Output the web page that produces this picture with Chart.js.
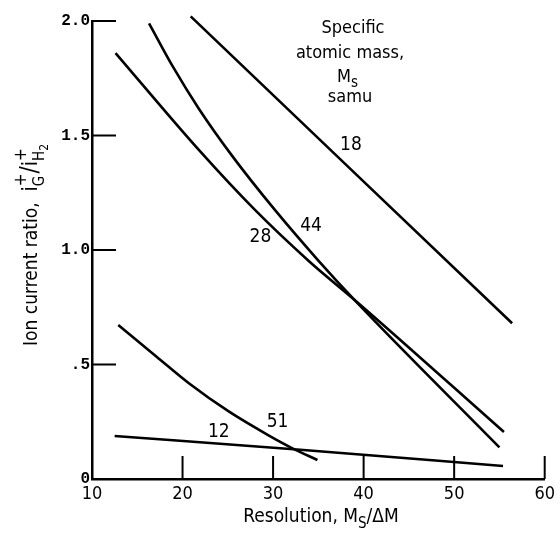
<!DOCTYPE html>
<html>
<head>
<meta charset="utf-8">
<script src="https://cdn.jsdelivr.net/npm/chart.js@4.4.1/dist/chart.umd.min.js"></script>
<style>
  html, body { margin: 0; padding: 0; background: #fff; }
  canvas { display: block; }
</style>
</head>
<body>
<canvas id="c" width="560" height="536"></canvas>
<script>
// ---- data ----
const xTickValues = [10, 20, 30, 40, 50, 60];
const xTickLabels = ['10', '20', '30', '40', '50', '60'];
const yTickValues = [0, 0.5, 1.0, 1.5, 2.0];
const yTickLabels = ['0', '.5', '1.0', '1.5', '2.0'];

const massLabels = ['18', '44', '28', '51', '12'];

const x18 = [20.9, 56.4];
const y18 = [2.02, 0.68];
const x44 = [16.3, 19.0, 21.8, 25.5, 30.2, 35.0, 39.3, 55.0];
const y44 = [1.99, 1.796, 1.617, 1.41, 1.175, 0.954, 0.769, 0.138];
const x28 = [12.6, 21.8, 28.0, 34.0, 39.3, 55.5];
const y28 = [1.86, 1.437, 1.175, 0.95, 0.772, 0.205];
const x51 = [12.9, 17.1, 20.7, 25.1, 29.4, 32.2, 34.9];
const y51 = [0.672, 0.535, 0.418, 0.295, 0.193, 0.133, 0.083];
const x12 = [12.5, 33.0, 55.4];
const y12 = [0.188, 0.128, 0.057];

// label anchor positions (data units)
const labelX = [38.6, 34.2, 28.6, 30.5, 24.0];
const labelY = [1.46, 1.105, 1.057, 0.249, 0.205];

const seriesX = [x18, x44, x28, x51, x12];
const seriesY = [y18, y44, y28, y51, y12];

const NARROW = '"Liberation Sans Narrow", "DejaVu Sans Condensed", "Arial Narrow", sans-serif';
const MONO = '"Liberation Mono", "DejaVu Sans Mono", monospace';

const datasets = seriesX.map((xs, i) => ({
  label: massLabels[i],
  data: xs.map((x, j) => ({ x: x, y: seriesY[i][j] })),
  showLine: true,
  borderColor: '#000',
  borderWidth: 2.6,
  pointRadius: 0,
  cubicInterpolationMode: 'monotone',
  fill: false,
  clip: false
}));

const annot = {
  id: 'annot',
  afterDraw(chart) {
    const ctx = chart.ctx;
    const xs = chart.scales.x, ys = chart.scales.y;
    const ca = chart.chartArea;
    ctx.save();
    ctx.strokeStyle = '#000';
    ctx.fillStyle = '#000';
    // inward tick marks
    ctx.lineWidth = 2;
    yTickValues.forEach(v => {
      if (v === 0) return;
      const py = ys.getPixelForValue(v);
      ctx.beginPath(); ctx.moveTo(ca.left, py); ctx.lineTo(ca.left + 24, py); ctx.stroke();
    });
    xTickValues.forEach(v => {
      if (v === 10) return;
      const px = xs.getPixelForValue(v);
      ctx.beginPath(); ctx.moveTo(px, ca.bottom); ctx.lineTo(px, ca.bottom - 23); ctx.stroke();
    });
    // curve labels
    ctx.font = '19px ' + NARROW;
    ctx.textAlign = 'center';
    ctx.textBaseline = 'middle';
    massLabels.forEach((t, i) => {
      ctx.fillText(t, xs.getPixelForValue(labelX[i]), ys.getPixelForValue(labelY[i]));
    });
    // note block
    ctx.font = '18px ' + NARROW;
    ctx.textBaseline = 'alphabetic';
    ctx.fillText('Specific', 353, 33);
    ctx.fillText('atomic mass,', 350, 58);
    ctx.textAlign = 'left';
    const wM = ctx.measureText('M').width;
    ctx.fillText('M', 347 - wM / 2 - 3, 82);
    ctx.font = '15px ' + NARROW;
    ctx.fillText('s', 347 + wM / 2 - 3, 87);
    ctx.font = '18px ' + NARROW;
    ctx.textAlign = 'center';
    ctx.fillText('samu', 350, 102);

    // x axis title
    ctx.textAlign = 'left';
    const big = '19px ' + NARROW, small = '15px ' + NARROW;
    ctx.font = big;
    const p1 = 'Resolution, M', p3 = '/\u0394M';
    const w1 = ctx.measureText(p1).width, w3 = ctx.measureText(p3).width;
    ctx.font = small;
    const w2 = ctx.measureText('S').width;
    let x0 = 321 - (w1 + w2 + w3) / 2;
    ctx.font = big; ctx.fillText(p1, x0, 522);
    ctx.font = small; ctx.fillText('S', x0 + w1, 528);
    ctx.font = big; ctx.fillText(p3, x0 + w1 + w2, 522);

    // y axis title (rotated)
    ctx.translate(37, 346);
    ctx.rotate(-Math.PI / 2);
    let cx = 0;
    const put = (txt, font, dy) => { ctx.font = font; ctx.fillText(txt, cx, dy); return ctx.measureText(txt).width; };
    cx += put('Ion current ratio,  ', big, 0);
    cx += put('i', '21px ' + NARROW, 0);
    let a = put('+', '17px ' + NARROW, -11);
    let b = put('G', small, 7);
    cx += Math.max(a, b);
    cx += put('/', '24px ' + NARROW, 0);
    cx += put('i', '21px ' + NARROW, 0);
    a = put('+', '17px ' + NARROW, -11);
    b = put('H', small, 7);
    cx += b;
    put('2', '12px ' + NARROW, 11);
    ctx.restore();
  }
};

new Chart(document.getElementById('c'), {
  type: 'scatter',
  data: { datasets: datasets },
  options: {
    responsive: false,
    animation: false,
    devicePixelRatio: 1,
    layout: { padding: { top: 21, right: 11, left: 0, bottom: 0 } },
    plugins: { legend: { display: false }, tooltip: { enabled: false } },
    scales: {
      x: {
        type: 'linear', min: 10, max: 60,
        afterBuildTicks: s => { s.ticks = xTickValues.map(v => ({ value: v })); },
        ticks: {
          color: '#000', padding: 5, maxRotation: 0,
          font: { family: NARROW, size: 18 },
          callback: v => xTickLabels[xTickValues.indexOf(v)]
        },
        grid: { drawOnChartArea: false, drawTicks: false },
        border: { color: '#000', width: 2.5 },
        afterFit: s => { s.height = 57; }
      },
      y: {
        type: 'linear', min: 0, max: 2.0,
        afterBuildTicks: s => { s.ticks = yTickValues.map(v => ({ value: v })); },
        ticks: {
          color: '#000', padding: 2,
          font: { family: MONO, size: 16, weight: 'bold' },
          callback: v => yTickLabels[yTickValues.indexOf(v)]
        },
        grid: { drawOnChartArea: false, drawTicks: false },
        border: { color: '#000', width: 2.5 },
        afterFit: s => { s.width = 92; }
      }
    }
  },
  plugins: [annot]
});
</script>
</body>
</html>
